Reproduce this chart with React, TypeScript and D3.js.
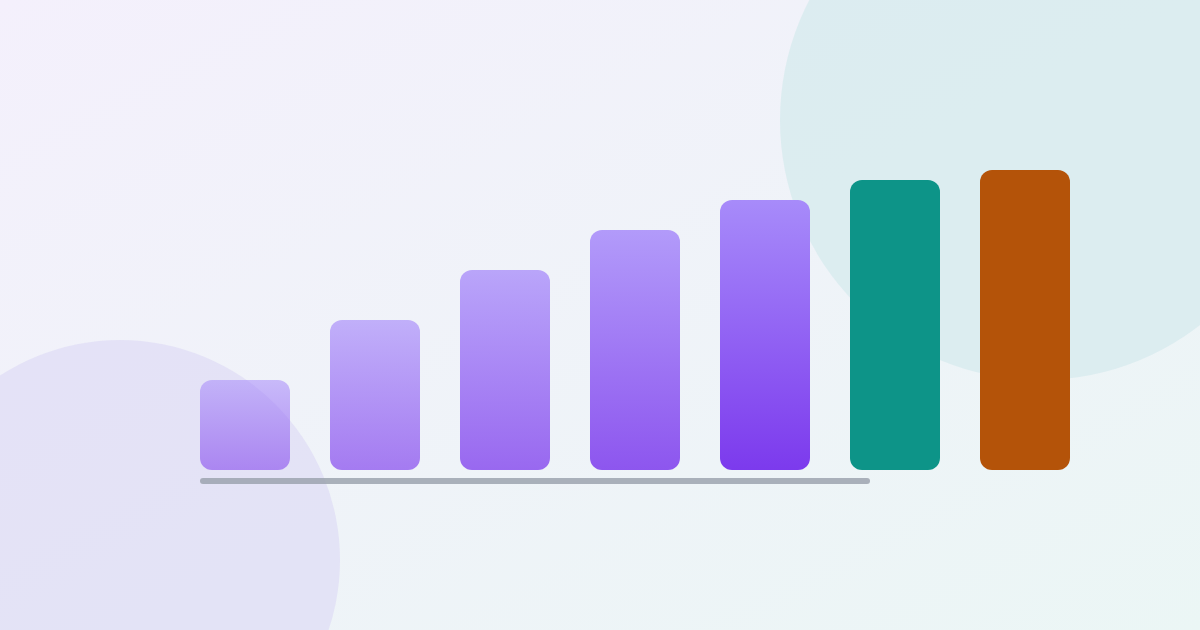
import * as d3 from "d3";

const W = 1200;
const H = 630;

const categories = ["A", "B", "C", "D", "E", "F", "G"];
const values = [90, 150, 200, 240, 270, 290, 300];
const opacities = [0.55, 0.65, 0.75, 0.85, 1, 1, 1];
const fills = ["url(#barGrad)", "url(#barGrad)", "url(#barGrad)", "url(#barGrad)", "url(#barGrad)", "#0d9488", "#b45309"];

export default function App() {
  const x = d3.scaleBand<string>().domain(categories).range([200, 1070]).paddingInner(40 / 130).paddingOuter(0);
  const y = d3.scaleLinear().domain([0, 300]).range([470, 170]);
  const bw = x.bandwidth();
  const cap = 3;

  return (
    <svg
      width={W}
      height={H}
      viewBox={`0 0 ${W} ${H}`}
      style={{ position: "absolute", left: 0, top: 0, display: "block" }}
    >
      <defs>
        <linearGradient id="bg" x1="0" y1="0" x2="1" y2="1">
          <stop offset="0%" stopColor="#f4f0fc" />
          <stop offset="100%" stopColor="#ebf6f5" />
        </linearGradient>
        <linearGradient id="barGrad" x1="0" y1="0" x2="0" y2="1">
          <stop offset="0%" stopColor="#a78bfa" />
          <stop offset="100%" stopColor="#7c3aed" />
        </linearGradient>
      </defs>
      <rect width={W} height={H} fill="url(#bg)" />
      <circle cx={1040} cy={120} r={260} fill="#d8ebee" opacity={0.85} />
      <circle cx={120} cy={560} r={220} fill="#dedcf5" opacity={0.7} />

      {categories.map((c, i) => (
        <rect
          key={c}
          x={x(c)}
          y={y(values[i])}
          width={bw}
          height={y(0) - y(values[i])}
          rx={12}
          ry={12}
          fill={fills[i]}
          opacity={opacities[i]}
        />
      ))}

      <line
        x1={(x(categories[0]) as number) + cap}
        x2={(x(categories[5]) as number) + 20 - cap}
        y1={y(0) + 11}
        y2={y(0) + 11}
        stroke="#9ca3af"
        strokeOpacity={0.85}
        strokeWidth={6}
        strokeLinecap="round"
      />
    </svg>
  );
}
